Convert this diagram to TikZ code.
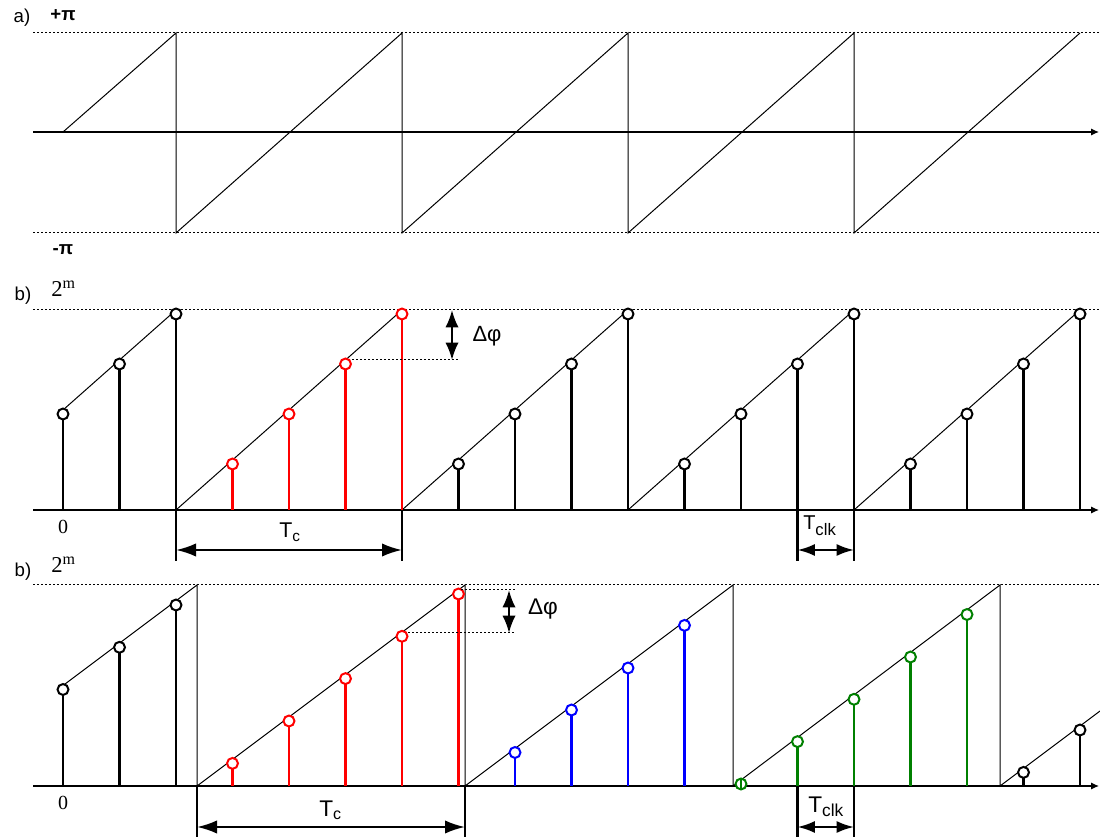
\documentclass[tikz,border=0pt]{standalone}
\usepackage{fontspec}
\setmainfont{Liberation Sans}
\newfontfamily\seriffont{Liberation Serif}
\usetikzlibrary{arrows.meta}
\definecolor{sred}{RGB}{255,0,0}
\definecolor{sblue}{RGB}{0,0,255}
\definecolor{sgreen}{RGB}{0,128,0}
\newcommand\fsz[1]{\fontsize{#1}{#1}\selectfont}
% T with a lowered subscript: #1 main size, #2 sub size, #3 drop, #4 text
\newcommand\Tlab[4]{{\fsz{#1}T}\raisebox{-#3}{\fsz{#2}#4}}
\newcommand\twom[2]{{\fsz{#1}2}\raisebox{6.5pt}{\fsz{#2}m}}
\begin{document}
\begin{tikzpicture}[x=0.75pt,y=-0.75pt,
  ramp/.style={line width=0.75pt},
  stem/.style={line width=1.7pt},
  samp/.style={circle,draw,line width=1.5pt,minimum size=8.2pt,inner sep=0pt,fill=white},
  dotl/.style={line width=0.75pt,dash pattern=on 1.5pt off 1.5pt},
  axis/.style={line width=1pt,-{Latex[length=6pt,width=5.5pt]}},
  dim/.style={line width=1.7pt,{Latex[length=15pt,width=10pt]}-{Latex[length=15pt,width=10pt]}},
  dimshort/.style={line width=1.7pt,{Latex[length=13pt,width=9pt]}-{Latex[length=13pt,width=9pt]}},
  dphi/.style={line width=1.7pt,{Latex[length=13pt,width=10pt]}-{Latex[length=13pt,width=10pt]}},
  lbl/.style={inner sep=0pt},
  plbl/.style={inner sep=0pt,font=\fsz{14pt}\bfseries},
  ltr/.style={inner sep=0pt,font=\fsz{14pt}},
  serlbl/.style={inner sep=0pt,font=\seriffont},
]
\useasboundingbox (0,0) rectangle (1100,837);

% ---------- panel a ----------
\draw[dotl] (33,33) -- (1100,33);
\draw[dotl] (33,233) -- (1100,233);
\draw[axis] (33,132) -- (1099,132);
\draw[ramp] (63,132) -- (176,33) -- (176,233) -- (402,33) -- (402,233) -- (628,33)
  -- (628,233) -- (854,33) -- (854,233) -- (1080,33);
\node[ltr] (la) at (22,18) {a)};
\node[plbl] (lpp) at (63,15) {+π};
\node[plbl] (lmp) at (63,250) {-π};

% ---------- panel b (first) ----------
\draw[dotl] (33,310) -- (1100,310);
\draw[axis] (33,510) -- (1099,510);
\draw[ramp] (63,410) -- (176,310);
\draw[ramp] (176,510) -- (402,310);
\draw[ramp] (402,510) -- (628,310);
\draw[ramp] (628,510) -- (854,310);
\draw[ramp] (854,510) -- (1080,310);
\foreach \x/\y/\c [count=\i] in {63/410/black,119.5/360/black,176/310/black,
  232.5/460/sred,289/410/sred,345.5/360/sred,402/310/sred,
  458.5/460/black,515/410/black,571.5/360/black,628/310/black,
  684.5/460/black,741/410/black,797.5/360/black,854/310/black,
  910.5/460/black,967/410/black,1023.5/360/black,1080/310/black}{
  \draw[stem,draw=\c] ({\x},{\y+4}) -- ({\x},510);
  \node[samp,draw=\c] (ba\i) at ({\x},{\y+4}) {};
}
\node[ltr] (lb1) at (23,296) {b)};
\node[serlbl,anchor=base west] (lm1) at (51,297) {\twom{17pt}{12pt}};
\node[serlbl,font=\fsz{15pt}\seriffont] (lz1) at (63,527) {0};
% delta phi
\draw[dotl] (352,360) -- (458,360);
\coordinate (dpa1) at (452,310);
\coordinate (dpb1) at (452,360);
\draw[dphi] (dpa1) -- (dpb1);
\node[lbl,font=\fsz{16.5pt}] (ldp1) at (487,336) {Δφ};
% Tc
\coordinate (tc1a) at (176,510); \coordinate (tc1b) at (176,561);
\coordinate (tc1c) at (402,510); \coordinate (tc1d) at (402,561);
\draw[stem] (tc1a) -- (tc1b);
\draw[stem] (tc1c) -- (tc1d);
\coordinate (tc1l) at (176,550); \coordinate (tc1r) at (402,550);
\draw[dim] (tc1l) -- (tc1r);
\node[lbl,anchor=base west] (ltc1) at (279,538) {\Tlab{16pt}{11.5pt}{2.5pt}{c}};
% Tclk
\coordinate (tk1a) at (797.5,510); \coordinate (tk1b) at (797.5,561);
\coordinate (tk1c) at (854,510); \coordinate (tk1d) at (854,561);
\draw[stem] (tk1a) -- (tk1b);
\draw[stem] (tk1c) -- (tk1d);
\coordinate (tk1l) at (797.5,550); \coordinate (tk1r) at (854,550);
\draw[dimshort] (tk1l) -- (tk1r);
\node[lbl,anchor=base west] (ltk1) at (803,530) {\Tlab{15pt}{12.5pt}{4.5pt}{clk}};

% ---------- panel b (second) ----------
\draw[dotl] (33,585) -- (1100,585);
\draw[axis] (33,786) -- (1099,786);
\draw[ramp] (63,685.5) -- (197,585) -- (197,786) -- (465,585) -- (465,786) -- (733,585)
  -- (733,786) -- (1000,585) -- (1000,786) -- (1100,711);
\foreach \x/\y/\c [count=\i] in {63/685.5/black,119.5/643.3/black,176/601/black,
  232.5/759.4/sred,289/717/sred,345.5/674.6/sred,402/632.3/sred,458.5/590/sred,
  515/748.5/sblue,571.5/706/sblue,628/664/sblue,684.5/621.4/sblue,
  797.5/737.6/sgreen,854/695.3/sgreen,910.5/653/sgreen,967/610.5/sgreen,
  1023.5/768.4/black,1080/726/black}{
  \draw[stem,draw=\c] ({\x},{\y+4}) -- ({\x},786);
  \node[samp,draw=\c] (bb\i) at ({\x},{\y+4}) {};
}
\node[samp,draw=sgreen] (bbg) at (741,784) {};
\draw[line width=1.3pt,sgreen] (bbg.north) -- (bbg.south);
\node[ltr] (lb2) at (23,572) {b)};
\node[serlbl,anchor=base west] (lm2) at (51,573) {\twom{17pt}{12pt}};
\node[serlbl,font=\fsz{15pt}\seriffont] (lz2) at (63,803) {0};
% delta phi
\draw[dotl] (461,590) -- (516,590);
\draw[dotl] (408,633) -- (516,633);
\coordinate (dpa2) at (509,590);
\coordinate (dpb2) at (509,633);
\draw[dphi] (dpa2) -- (dpb2);
\node[lbl,font=\fsz{17pt}] (ldp2) at (543,609) {Δφ};
% Tc
\coordinate (tc2a) at (197,786); \coordinate (tc2b) at (197,837);
\coordinate (tc2c) at (465,786); \coordinate (tc2d) at (465,837);
\draw[stem] (tc2a) -- (tc2b);
\draw[stem] (tc2c) -- (tc2d);
\coordinate (tc2l) at (197,827); \coordinate (tc2r) at (465,827);
\draw[dim] (tc2l) -- (tc2r);
\node[lbl,anchor=base west] (ltc2) at (319,816) {\Tlab{17pt}{12pt}{2.5pt}{c}};
% Tclk
\coordinate (tk2a) at (797.5,786); \coordinate (tk2b) at (797.5,837);
\coordinate (tk2c) at (854,786); \coordinate (tk2d) at (854,837);
\draw[stem] (tk2a) -- (tk2b);
\draw[stem] (tk2c) -- (tk2d);
\coordinate (tk2l) at (797.5,827); \coordinate (tk2r) at (854,827);
\draw[dimshort] (tk2l) -- (tk2r);
\node[lbl,anchor=base west] (ltk2) at (808,812) {\Tlab{17pt}{13pt}{3pt}{clk}};
\end{tikzpicture}
\end{document}
